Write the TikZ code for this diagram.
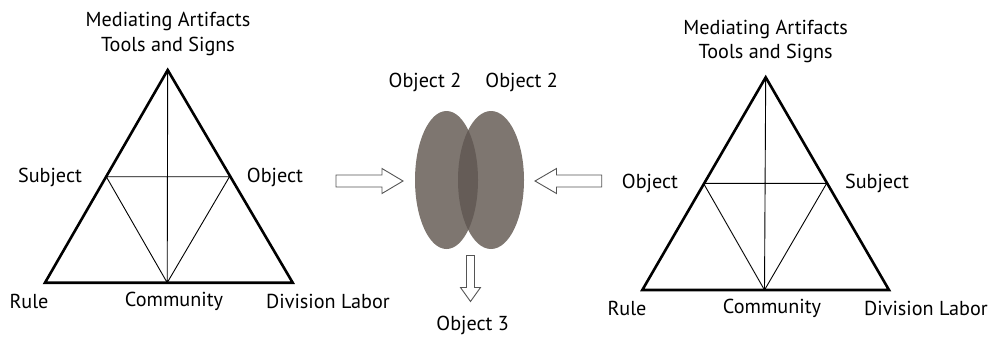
\documentclass[tikz,border=0pt]{standalone}
\usepackage{fontspec}
\setmainfont{PT Sans}
\definecolor{blob}{HTML}{7E7670}
\definecolor{blobdark}{HTML}{655C57}
\definecolor{arrowline}{HTML}{555555}
\begin{document}
\begin{tikzpicture}[x=1pt,y=-1pt,
  lbl/.style={inner sep=0pt, font=\fontsize{20.2}{23}\selectfont},
  outer/.style={line width=2.6pt, line join=miter},
  inner/.style={line width=0.9pt},
  blockarrow/.style={draw=arrowline, fill=white, line width=0.9pt, line join=miter}]
\useasboundingbox (0,0) rectangle (993,338);

% ---- left activity triangle ----
\coordinate (LA) at (167.7,70);
\coordinate (LB) at (45,282.7);
\coordinate (LC) at (292.7,282.7);
\coordinate (LM) at (167.2,282.7);
\coordinate (LS) at (106.3,176.7);
\coordinate (LO) at (229.5,176.7);
\draw[inner] (LA) -- (LM) (LS) -- (LO) (LS) -- (LM) -- (LO);
\draw[outer] (LA) -- (LB) -- (LC) -- cycle;
\node[lbl] (lmed) at (168,21) {Mediating Artifacts};
\node[lbl] (ltool) at (168,46.5) {Tools and Signs};
\node[lbl] (lsubj) at (50,177) {Subject};
\node[lbl] (lobj) at (275,177) {Object};
\node[lbl] (lrule) at (29,301.5) {Rule};
\node[lbl] (lcomm) at (174,301.5) {Community};
\node[lbl] (ldiv) at (328,301.5) {Division Labor};

% ---- right activity triangle ----
\coordinate (RA) at (765.7,77.3);
\coordinate (RB) at (642.3,290);
\coordinate (RC) at (889,290);
\coordinate (RM) at (764.5,290);
\coordinate (RO) at (703.5,183.3);
\coordinate (RS) at (826.7,183.3);
\draw[inner] (RA) -- (RM) (RO) -- (RS) (RO) -- (RM) -- (RS);
\draw[outer] (RA) -- (RB) -- (RC) -- cycle;
\node[lbl] (rmed) at (765.7,29) {Mediating Artifacts};
\node[lbl] (rtool) at (765.7,53.5) {Tools and Signs};
\node[lbl] (robj) at (650,183) {Object};
\node[lbl] (rsubj) at (877,183) {Subject};
\node[lbl] (rrule) at (627,308) {Rule};
\node[lbl] (rcomm) at (772,308) {Community};
\node[lbl] (rdiv) at (926,308) {Division Labor};

% ---- shared objects ----
\fill[blob] (446.5,180) ellipse [x radius=31.5, y radius=69];
\fill[blob] (491,180) ellipse [x radius=33, y radius=69];
\begin{scope}
  \clip (446.5,180) ellipse [x radius=31.5, y radius=69];
  \fill[blobdark] (491,180) ellipse [x radius=33, y radius=69];
\end{scope}
\node[lbl] (obja) at (425,82) {Object 2};
\node[lbl] (objb) at (521.7,82) {Object 2};
\node[lbl] (objc) at (472.7,325) {Object 3};

% ---- hollow block arrows ----
\draw[blockarrow] (336,175) -- (382,175) -- (382,168.5) -- (403,181)
  -- (382,193.5) -- (382,187) -- (336,187) -- cycle;
\draw[blockarrow] (601.7,175) -- (556.5,175) -- (556.5,168.5) -- (535,181)
  -- (556.5,193.5) -- (556.5,187) -- (601.7,187) -- cycle;
\draw[blockarrow] (466.5,255.5) -- (474.5,255.5) -- (474.5,287.5) -- (480.5,287.5)
  -- (470.5,301.5) -- (460.5,287.5) -- (466.5,287.5) -- cycle;
\end{tikzpicture}
\end{document}
